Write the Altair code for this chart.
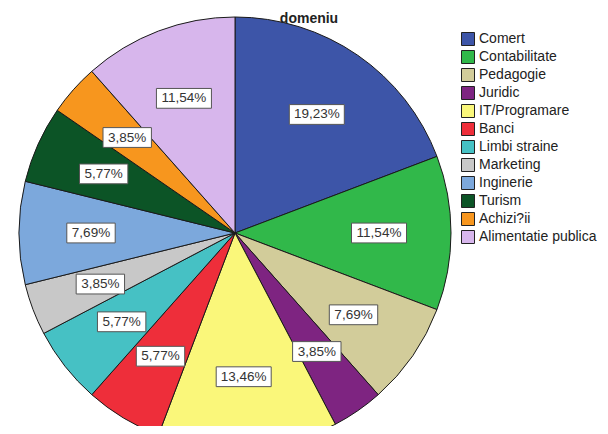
import altair as alt
import pandas as pd

categories = ["Comert", "Contabilitate", "Pedagogie", "Juridic", "IT/Programare", "Banci",
              "Limbi straine", "Marketing", "Inginerie", "Turism", "Achizi?ii", "Alimentatie publica"]
counts = [10, 6, 4, 2, 7, 3, 3, 2, 4, 3, 2, 6]
labels = ["19,23%", "11,54%", "7,69%", "3,85%", "13,46%", "5,77%",
          "5,77%", "3,85%", "7,69%", "5,77%", "3,85%", "11,54%"]
colors = ["#3D55A8", "#31B84A", "#D2CC9A", "#7E2481", "#FAF77A", "#EE2E3A",
          "#46C1C4", "#C8C8C8", "#7CA8DC", "#0C5426", "#F7961E", "#D7B6EC"]

df = pd.DataFrame({"domeniu": categories, "n": counts, "label": labels, "ord": list(range(len(categories)))})

box5 = "M-0.88,-0.36L0.88,-0.36L0.88,0.36L-0.88,0.36Z"
box6 = "M-1,-0.36L1,-0.36L1,0.36L-1,0.36Z"

xs = alt.Scale(domain=[-1, 1], range=[0, 450])
ys = alt.Scale(domain=[-1, 1], range=[450, 0])

arcs = alt.Chart(df).mark_arc(outerRadius=216, stroke="#1a1a1a", strokeWidth=1).encode(
    theta=alt.Theta("n:Q", stack=True),
    color=alt.Color("domeniu:N", scale=alt.Scale(domain=categories, range=colors), sort=categories,
                    legend=alt.Legend(title=None, orient="none", legendX=451, legendY=24,
                                      symbolType="square", symbolSize=169, symbolStrokeColor="#222",
                                      symbolStrokeWidth=1, labelFontSize=14, labelFont="Liberation Sans",
                                      labelColor="#222", rowPadding=0, padding=0, labelOffset=4)),
    order=alt.Order("ord:Q"),
    x=alt.value(225),
    y=alt.value(225),
)

base = alt.Chart(df).transform_joinaggregate(total="sum(n)").transform_window(
    cum="sum(n)", sort=[alt.SortField("ord")], frame=[None, 0]
).transform_calculate(
    mid="2*PI*(datum.cum - datum.n/2)/datum.total",
    lx="0.64*sin(datum.mid)",
    ly="0.64*cos(datum.mid)",
    len="toString(length(datum.label))",
)

boxes = base.mark_point(filled=True, fill="white", stroke="#555", strokeWidth=1, opacity=1, size=3025).encode(
    x=alt.X("lx:Q", scale=xs, axis=None),
    y=alt.Y("ly:Q", scale=ys, axis=None),
    shape=alt.Shape("len:N", scale=alt.Scale(domain=["5", "6"], range=[box5, box6]), legend=None),
)

texts = base.mark_text(fontSize=13.5, font="Liberation Sans", color="#333").encode(
    x=alt.X("lx:Q", scale=xs, axis=None),
    y=alt.Y("ly:Q", scale=ys, axis=None),
    text="label:N",
)

chart = alt.layer(arcs, boxes, texts).properties(
    width=590, height=418,
    autosize=alt.AutoSizeParams(type="none"),
    padding={"left": 2, "top": 0, "right": 0, "bottom": 0},
    title=alt.TitleParams("domeniu", anchor="middle", frame="group", orient="top", offset=0,
                          baseline="alphabetic", dy=29, dx=4, fontSize=14, fontWeight="bold",
                          font="Liberation Sans", color="#222"),
).configure_view(stroke=None)

chart.save("out.html", embed_options={"renderer": "svg", "actions": False})
